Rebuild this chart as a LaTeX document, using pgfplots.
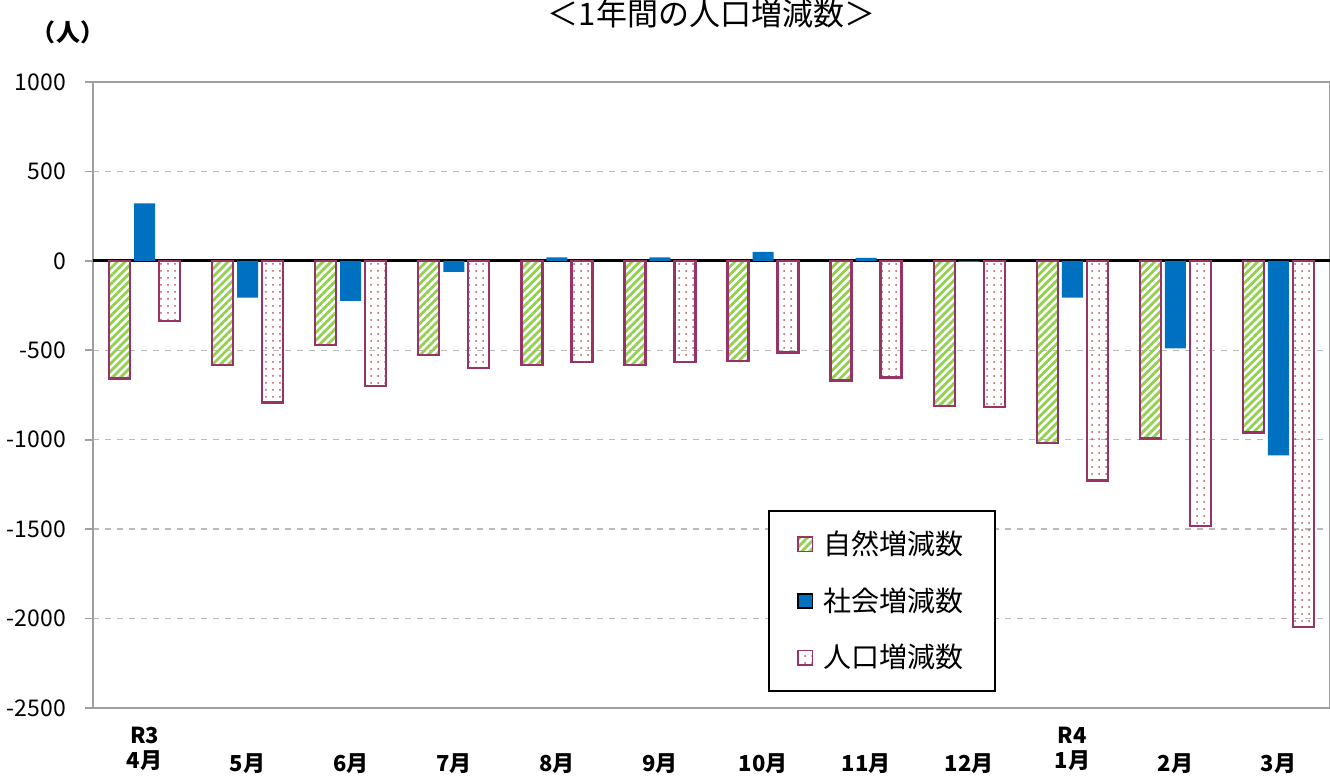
\documentclass[border=0pt]{standalone}
\usepackage{pgfplots}
\pgfplotsset{compat=1.18}
\usepackage{fontspec}
\setmainfont{Noto Sans CJK JP}
\usetikzlibrary{patterns.meta}
\definecolor{purp}{HTML}{993366}
\definecolor{grn}{HTML}{92D050}
\definecolor{blu}{HTML}{0070C0}
\definecolor{dotc}{HTML}{C0504D}
\begin{document}
\begin{tikzpicture}
\begin{axis}[
  scale only axis, width=618.5pt, height=313pt,
  ymin=-2500, ymax=1000, ytick={-2500,-2000,...,1000},
  xmin=-0.5, xmax=11.5, xtick={0,...,11},
  xticklabels={{R3\\4月},{\strut\\5月},{\strut\\6月},{\strut\\7月},{\strut\\8月},{\strut\\9月},{\strut\\10月},{\strut\\11月},{\strut\\12月},{R4\\1月},{\strut\\2月},{\strut\\3月}},
  xticklabel style={align=center, font=\fontsize{11}{12.5}\selectfont\bfseries, yshift=-2pt},
  yticklabel style={font=\fontsize{11.5}{13}\selectfont, xshift=-6pt},
  /pgf/number format/assume math mode=true,
  /pgf/number format/set thousands separator={},
  ybar=2pt, bar width=10.5pt,
  ymajorgrids, grid style={dashed, gray!55, line width=0.7pt},
  axis line style={gray!75, line width=1pt},
  tick align=outside, xtick style={draw=none},
  ytick style={gray!75, line width=0.8pt},
  major tick length=4pt,
  extra y ticks={0}, extra y tick labels={},
  extra y tick style={grid style={solid, black, line width=1.4pt}, major tick length=0pt},
  legend style={at={(rel axis cs:0.546,0.316)}, anchor=north west, draw=black, line width=0.8pt,
     font=\fontsize{14}{16}\selectfont, row sep=11pt, inner xsep=14pt, inner ysep=8pt,
     /tikz/every odd column/.append style={column sep=3pt}},
  legend cell align=left,
  legend image code/.code={\draw[#1, line width=0.8pt] (0pt,-3.6pt) rectangle (7.2pt,3.6pt);},
  title={＜1年間の人口増減数＞},
  title style={at={(rel axis cs:0.5,1)}, anchor=center, yshift=28pt, font=\fontsize{15.5}{17}\selectfont},
]
\addplot[draw=purp, line width=1.2pt, pattern={Lines[angle=45,distance=2.8pt,line width=1.4pt]}, pattern color=grn]
 coordinates {(0,-657) (1,-581) (2,-470) (3,-525) (4,-581) (5,-581) (6,-559) (7,-670) (8,-810) (9,-1018) (10,-993) (11,-959)};
\addplot[draw=none, fill=blu]
 coordinates {(0,322) (1,-205) (2,-224) (3,-61) (4,20) (5,20) (6,50) (7,17) (8,-6) (9,-205) (10,-490) (11,-1088)};
\addplot[draw=purp, line width=1.2pt, pattern={Dots[distance=3.5pt,radius=0.5pt]}, pattern color=dotc]
 coordinates {(0,-335) (1,-791) (2,-699) (3,-598) (4,-564) (5,-564) (6,-512) (7,-652) (8,-816) (9,-1229) (10,-1484) (11,-2048)};
\legend{自然増減数,社会増減数,人口増減数}
\end{axis}
\node[font=\fontsize{12}{14}\selectfont\bfseries] at ([shift={(-12.5pt,25pt)}]current axis.north west) {（人）};
\pgfresetboundingbox
\path ([shift={(-46.5pt,-33.5pt)}]current axis.south west) rectangle ([shift={(0pt,41pt)}]current axis.north east);
\end{tikzpicture}
\end{document}
